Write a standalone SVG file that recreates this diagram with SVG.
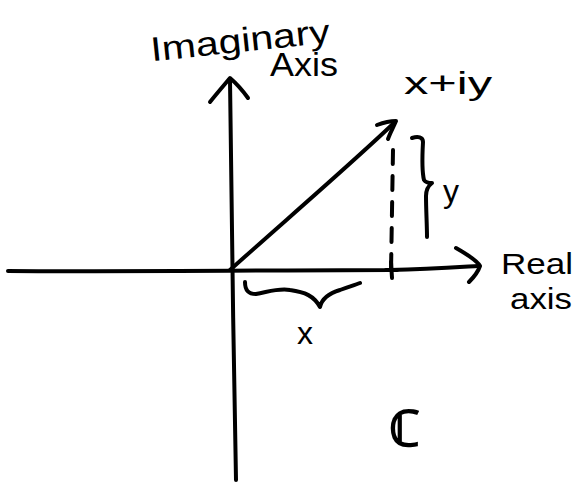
<svg xmlns="http://www.w3.org/2000/svg" width="577" height="483" viewBox="0 0 577 483">
<style>
.s{fill:none;stroke:#000;stroke-width:4;stroke-linecap:round;stroke-linejoin:round}
.d{stroke-dasharray:14 12}
.t{font-family:"Liberation Sans",Arial,sans-serif;fill:#000}
</style>
<rect width="577" height="483" fill="#fff"/>
<g id="connectors">
<path class="s" d="M8 271 C120 272 300 270 390 270 C430 269 460 267 478 266"/>
<path class="s" d="M456 248 C470 256 478 262 480 266 C478 272 473 278 469 282"/>
<path class="s" d="M230 80 C232 200 233 350 236 480"/>
<path class="s" d="M210 102 C218 92 225 84 230 78 C237 84 243 91 248 98"/>
<path class="s" d="M230 270 C280 225 350 165 395 122"/>
<path class="s" d="M377 125 C385 122 391 121 396 121 C393 128 390 133 388 139"/>
<path class="s d" d="M393 150 L391 272"/>
<path class="s" d="M386 270 L397 270 M391 262 L392 278"/>
</g>
<g id="brace-y">
<path class="s" d="M412 138 C418 136 423 137 423 142 C422 160 422 172 424 180 C426 183 430 183 432 183 C428 186 426 190 426 196 C426 210 427 225 427 237"/>
</g>
<g id="brace-x">
<path class="s" d="M245 282 C245 290 248 294 256 294 C268 292 278 288 290 290 C305 292 314 296 320 307 C322 298 330 293 340 290 C348 287 355 285 360 283"/>
</g>
<g id="label-imag">
<text class="t" x="150" y="52" font-size="34" textLength="180" lengthAdjust="spacingAndGlyphs" transform="rotate(-6 240 40)">Imaginary</text>
<text class="t" x="270" y="76" font-size="34" textLength="68" lengthAdjust="spacingAndGlyphs">Axis</text>
</g>
<g id="label-z">
<text class="t" x="404" y="94" font-size="32" textLength="88" lengthAdjust="spacingAndGlyphs">x+iy</text>
</g>
<g id="label-y">
<text class="t" x="443" y="202" font-size="32">y</text>
</g>
<g id="label-real">
<text class="t" x="501" y="274" font-size="30" textLength="72" lengthAdjust="spacingAndGlyphs">Real</text>
<text class="t" x="510" y="309" font-size="30" textLength="62" lengthAdjust="spacingAndGlyphs">axis</text>
</g>
<g id="label-x">
<text class="t" x="297" y="344" font-size="32">x</text>
</g>
<g id="label-C">
<text class="t" x="389" y="446" font-size="50" font-weight="bold">ℂ</text>
</g>
</svg>
